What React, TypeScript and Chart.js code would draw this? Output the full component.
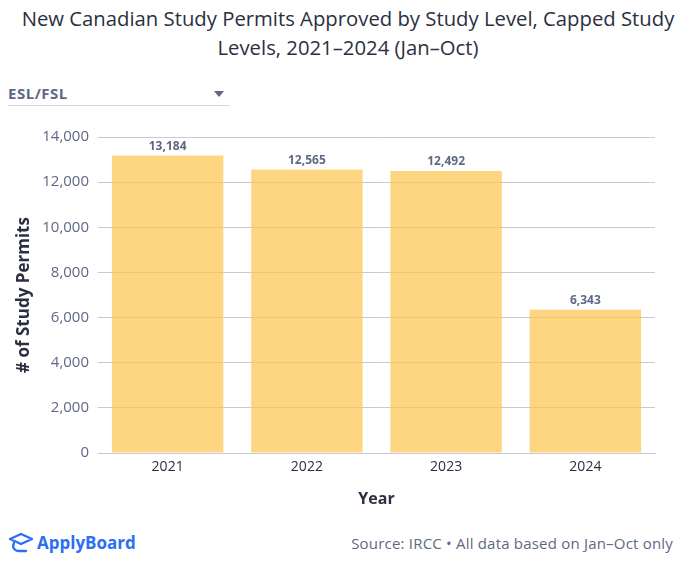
import React, { useEffect, useRef } from "react";
import { Chart, registerables } from "chart.js";

Chart.register(...registerables);

const years = ["2021", "2022", "2023", "2024"];
const permits = [13184, 12565, 12492, 6343];
const yTicks = [0, 2000, 4000, 6000, 8000, 10000, 12000, 14000];

const FONT = "'Open Sans', 'Noto Sans', sans-serif";
const GREY = "#5f6885";
const DARK = "#2b2f40";

const valueLabels = {
  id: "valueLabels",
  afterDatasetsDraw(chart: any) {
    const ctx = chart.ctx;
    const meta = chart.getDatasetMeta(0);
    ctx.save();
    ctx.font = `bold 12px ${FONT}`;
    ctx.fillStyle = GREY;
    ctx.textAlign = "center";
    ctx.textBaseline = "bottom";
    meta.data.forEach((bar: any, i: number) => {
      const v = chart.data.datasets[0].data[i] as number;
      ctx.fillText(v.toLocaleString("en-US"), bar.x, bar.y - 3);
    });
    ctx.restore();
  },
};

export default function App() {
  const ref = useRef<HTMLCanvasElement>(null);
  useEffect(() => {
    document.body.style.margin = "0";
    const chart = new Chart(ref.current!, {
      type: "bar",
      data: {
        labels: years,
        datasets: [
          {
            data: permits,
            backgroundColor: "rgba(253,198,80,0.72)",
            borderWidth: 0,
            barPercentage: 0.8,
            categoryPercentage: 1,
          },
        ],
      },
      options: {
        animation: false,
        responsive: false,
        layout: { padding: { top: 22, right: 41, bottom: 0, left: 0 } },
        plugins: { legend: { display: false }, tooltip: { enabled: false } },
        scales: {
          x: {
            grid: { display: false, drawTicks: false },
            border: { display: true, color: "#c7c9d6", width: 1 },
            ticks: { color: DARK, font: { family: FONT, size: 14 }, padding: 6 },
            title: {
              display: true,
              text: "Year",
              color: DARK,
              font: { family: FONT, size: 16, weight: "bold" },
              padding: { top: 4, bottom: 4 },
            },
            afterFit: (s: any) => {
              s.height = 60;
            },
          },
          y: {
            min: 0,
            max: 14000,
            afterBuildTicks: (s: any) => {
              s.ticks = yTicks.map((v) => ({ value: v }));
            },
            grid: { color: "#c7c9d6", drawTicks: false },
            border: { display: false },
            ticks: {
              color: GREY,
              font: { family: FONT, size: 15 },
              padding: 9,
              callback: (v: any) => Number(v).toLocaleString("en-US"),
            },
            title: {
              display: true,
              text: "# of Study Permits",
              color: DARK,
              font: { family: FONT, size: 17, weight: "bold" },
              padding: { top: 14, bottom: 6 },
            },
            afterFit: (s: any) => {
              s.width = 98;
            },
          },
        },
      },
      plugins: [valueLabels],
    });
    return () => chart.destroy();
  }, []);

  return (
    <div style={{ position: "relative", width: 696, height: 565, fontFamily: FONT, background: "#fff" }}>
      <div
        style={{
          position: "absolute",
          top: 4,
          left: 0,
          width: 696,
          textAlign: "center",
          fontSize: 20.3,
          fontWeight: 500,
          color: DARK,
          lineHeight: "29px",
        }}
      >
        New Canadian Study Permits Approved by Study Level, Capped Study
        <br />
        Levels, 2021–2024 (Jan–Oct)
      </div>
      <div
        style={{
          position: "absolute",
          top: 83,
          left: 8,
          width: 222,
          height: 22,
          borderBottom: "1px solid #d6d8e0",
          color: GREY,
          fontSize: 15,
          fontWeight: 700,
          letterSpacing: "0.5px",
        }}
      >
        ESL/FSL
        <svg width="10" height="6" style={{ position: "absolute", right: 6, top: 8 }}>
          <path d="M0 0 L10 0 L5 6 Z" fill={GREY} />
        </svg>
      </div>
      <canvas
        ref={ref}
        width={696}
        height={398}
        style={{ position: "absolute", top: 115, left: 0 }}
      />
      <div
        style={{
          position: "absolute",
          top: 531,
          left: 8,
          display: "flex",
          alignItems: "center",
          color: "#2b6ff2",
          fontWeight: 700,
          fontSize: 17,
        }}
      >
        <svg width="26" height="22" viewBox="0 0 26 22" style={{ marginRight: 3 }}>
          <path d="M2 7 L13 2 L24 7 L13 12 Z" fill="none" stroke="#2b6ff2" strokeWidth="2.4" strokeLinejoin="round" />
          <path d="M6 11 C4 15 6 19 11 19 L18 19" fill="none" stroke="#2b6ff2" strokeWidth="2.4" strokeLinecap="round" />
        </svg>
        ApplyBoard
      </div>
      <div
        style={{
          position: "absolute",
          top: 533,
          right: 23,
          color: GREY,
          fontSize: 15,
          letterSpacing: "0.2px",
        }}
      >
        Source: IRCC • All data based on Jan–Oct only
      </div>
    </div>
  );
}
